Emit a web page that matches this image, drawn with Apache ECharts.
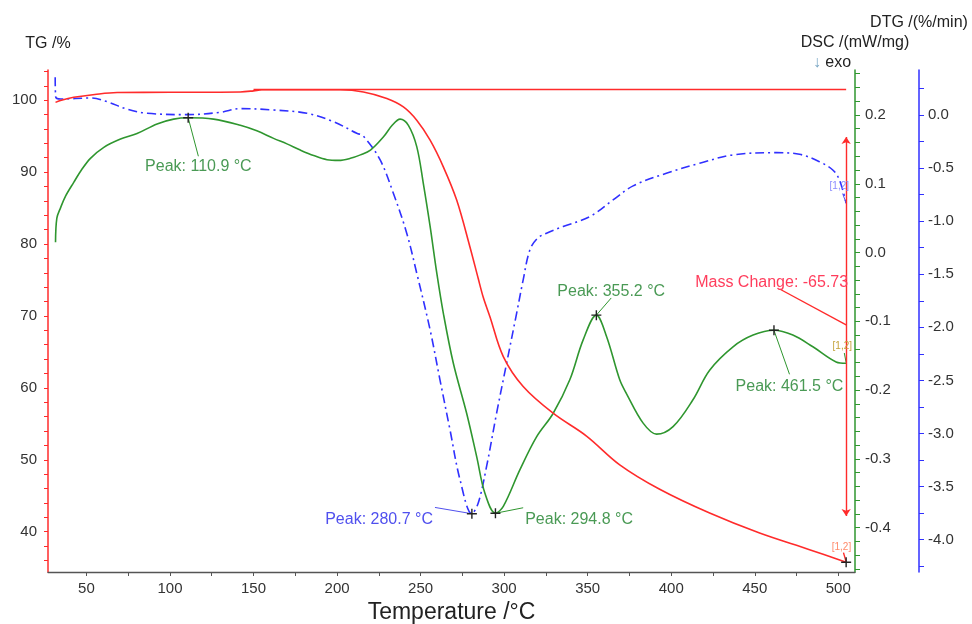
<!DOCTYPE html>
<html>
<head>
<meta charset="utf-8">
<script src="https://cdn.jsdelivr.net/npm/echarts@6/dist/echarts.min.js"></script>
<style>
  html, body { margin: 0; padding: 0; background: #ffffff; }
  #chart { width: 972px; height: 624px; }
</style>
</head>
<body>
<div id="chart"></div>
<script>
// ---- Thermogravimetric mass (TG, %) ----
const tgTemp = [31.5, 35, 42.4, 55, 68.4, 100, 142, 150, 155, 202, 215.8, 229.8, 239.7, 247.7, 255.7,
  263.6, 271.6, 279.5, 284.5, 287.5, 291.5, 299.5, 311.4, 329.3, 349.3, 369.2, 393.1, 423, 452.9, 482.8, 504.7];
const tgMass = [99.7, 100.0, 100.4, 100.8, 101.07, 101.1, 101.15, 101.3, 101.45, 101.45, 101.15, 100.24, 99.07, 97.22, 94.44,
  90.74, 86.11, 79.63, 75.2, 72.6, 69.9, 64.35, 60.19, 56.48, 53.3, 49.3, 45.9, 42.59, 39.81, 37.5, 35.76];

// ---- Heat flow (DSC, mW/mg), exo down ----
const dscTemp = [31.5, 32.3, 34.5, 37.5, 42.4, 47, 52.4, 60.4, 70.4, 80.3, 92.3, 102.2, 110.9, 126.1, 142.1,
  152, 162, 170, 178, 186, 194, 201, 208, 214, 220, 227.7, 233, 237.7, 242.7, 247.7, 251.6, 255.7, 259.7, 263.6, 269.6,
  277.6, 283.6, 288.5, 294.8, 299.5, 309.4, 319.4, 329.3, 339.3, 347.3, 355.2, 361.3, 369.2, 373.2, 383.2,
  391.2, 401.1, 413.0, 423, 437, 449, 461.5, 472.8, 484.8, 498.7, 504.7];
const dscHeat = [0.015, 0.05, 0.065, 0.082, 0.102, 0.12, 0.137, 0.153, 0.165, 0.173, 0.187, 0.194, 0.196, 0.194, 0.185,
  0.177, 0.166, 0.158, 0.149, 0.141, 0.135, 0.134, 0.137, 0.142, 0.149, 0.168, 0.185, 0.194, 0.185, 0.154, 0.101, 0.038, -0.030, -0.088, -0.161,
  -0.234, -0.297, -0.350, -0.379, -0.369, -0.316, -0.268, -0.234, -0.185, -0.127, -0.091, -0.122, -0.185, -0.205, -0.248,
  -0.264, -0.253, -0.214, -0.171, -0.137, -0.120, -0.113, -0.120, -0.137, -0.159, -0.161];

// ---- Mass-loss rate (DTG, %/min) ----
const dtgTemp = [31.3, 31.6, 34.5, 52.4, 62.4, 74.4, 86.3, 110.2, 130.1, 142.1, 162, 182, 197.8, 211.8, 215.8,
  225.8, 233.7, 241.7, 247.7, 255.7, 261.6, 267.6, 273.6, 280.7, 284.5, 289.5, 295.5, 301.5, 307.5, 311.4,
  315.4, 320, 325.4, 335.3, 351.3, 365.2, 377.2, 397.1, 417, 436.9, 462.9, 476.8, 488.7, 496.7, 500.7, 504.7];
const dtgRate = [0.355, 0.17, 0.15, 0.16, 0.125, 0.054, 0.016, 0.003, 0.025, 0.06, 0.047, 0.016, -0.063, -0.172, -0.2,
  -0.424, -0.737, -1.113, -1.49, -2.024, -2.494, -2.965, -3.435, -3.755, -3.655, -3.31, -2.808, -2.337, -1.866, -1.553,
  -1.271, -1.16, -1.113, -1.051, -0.957, -0.8, -0.668, -0.549, -0.455, -0.376, -0.355, -0.37, -0.44, -0.518, -0.612, -0.831];

// ---- Tick labels ----
const xTickLabels = [50, 100, 150, 200, 250, 300, 350, 400, 450, 500];
const tgTickLabels = [40, 50, 60, 70, 80, 90, 100];
const dscTickLabels = [-0.4, -0.3, -0.2, -0.1, 0.0, 0.1, 0.2];
const dtgTickLabels = [-4.0, -3.5, -3.0, -2.5, -2.0, -1.5, -1.0, -0.5, 0.0];

// ---- Evaluated events ----
const dscPeakTemps = [110.9, 294.8, 355.2, 461.5];
const dtgPeakTemps = [280.7];
const massBaseline = 101.49;
const massChange = -65.73;

// label anchors for the peak callouts (temperature, value, side, text offset)
const dscPeakLabelAt = [
  [117.0, 0.140, 'bottom', [0, 0]],
  [311.4, -0.371, 'right', [0, 12]],
  [364.1, -0.066, 'top', [0, 4]],
  [470.8, -0.177, 'bottom', [0, 2]]
];
const dtgPeakLabelAt = [[258.6, -3.696, 'left', [0, 12]]];

const FONT = '"Liberation Sans", Arial, sans-serif';
const RED = '#ff2b2b', GREEN = '#2f962f', BLUE = '#3030ff';
const GREEN_TXT = '#4a9a55', BLUE_TXT = '#5050ee', MASS_TXT = '#ff3d5c';
const PLUS = 'path://M4.3,0H5.7V4.3H10V5.7H5.7V10H4.3V5.7H0V4.3H4.3Z';

function zip(a, b) { return a.map((t, i) => [t, b[i]]); }
function valueAt(temps, vals, t) { return vals[temps.indexOf(t)]; }
function steps(from, to, step) {
  const out = [];
  for (let v = from; v <= to + step / 1000; v += step) out.push(Math.round(v * 1000) / 1000);
  return out;
}

function plusMark(coord) {
  return { coord, symbol: PLUS, symbolSize: 10, itemStyle: { color: '#222' }, label: { show: false } };
}
function textMark(coord, text, position, color, size, offset) {
  return {
    coord, symbol: 'circle', symbolSize: 0, itemStyle: { color: 'rgba(0,0,0,0)' },
    label: { show: true, position, distance: 2, formatter: text, color, fontSize: size,
             fontFamily: FONT, offset: offset || [0, 0] }
  };
}
function leader(a, b) { return [{ coord: a }, { coord: b }]; }

// DSC callouts
const dscMarks = [], dscLeaders = [];
dscPeakTemps.forEach((t, i) => {
  const v = valueAt(dscTemp, dscHeat, t);
  const [lt, lv, side, off] = dscPeakLabelAt[i];
  dscMarks.push(plusMark([t, v]));
  dscLeaders.push(leader([t, v], [lt, lv]));
  dscMarks.push(textMark([lt, lv], 'Peak: ' + t.toFixed(1) + ' °C', side, GREEN_TXT, 16, off));
});
dscMarks.push(textMark([502.4, -0.136], '[1,2]', 'inside', '#c3a23a', 10));
dscLeaders.push(leader([503.6, -0.146], [504.7, -0.160]));

// DTG callouts
const dtgMarks = [], dtgLeaders = [];
dtgPeakTemps.forEach((t, i) => {
  const v = valueAt(dtgTemp, dtgRate, t);
  const [lt, lv, side, off] = dtgPeakLabelAt[i];
  dtgMarks.push(plusMark([t, v]));
  dtgLeaders.push(leader([t, v], [lt, lv]));
  dtgMarks.push(textMark([lt, lv], 'Peak: ' + t.toFixed(1) + ' °C', side, BLUE_TXT, 16, off));
});
dtgMarks.push(textMark([500.6, -0.67], '[1,2]', 'inside', '#8c8cff', 10));
dtgLeaders.push(leader([502.6, -0.74], [504.7, -0.83]));

// TG: mass change step
const tgEnd = tgTemp[tgTemp.length - 1];
const tgMarks = [
  plusMark([tgEnd, tgMass[tgMass.length - 1]]),
  textMark([464.9, 73.75], 'Mass Change: ' + massChange.toFixed(2), 'top', MASS_TXT, 16, [-8, 4]),
  textMark([501.9, 37.9], '[1,2]', 'inside', '#ff8a6a', 10)
];
const tgLines = [
  leader([150, massBaseline], [tgEnd, massBaseline]),
  [{ coord: [tgEnd, 94.9], symbol: 'arrow' }, { coord: [tgEnd, 42.2], symbol: 'arrow' }],
  leader([464.9, 73.75], [tgEnd, 68.75]),
  leader([503.1, 37.1], [504.6, 35.9])
];

const labelStyle = { color: '#333', fontSize: 15, fontFamily: FONT };
const fmt1 = v => Number(v).toFixed(1);

const option = {
  animation: false,
  backgroundColor: '#ffffff',
  grid: { left: 48, right: 117, top: 70, bottom: 52, containLabel: false, outerBoundsMode: 'none' },
  xAxis: {
    type: 'value', min: 27, max: 510,
    name: 'Temperature /°C', nameLocation: 'middle', nameGap: 21,
    nameTextStyle: { fontSize: 23, color: '#222', fontFamily: FONT },
    axisLine: { onZero: false, lineStyle: { color: '#555', width: 1.3 } },
    axisTick: { show: true, length: 4, customValues: steps(50, 500, 25), lineStyle: { color: '#555' } },
    axisLabel: Object.assign({ margin: 9, customValues: xTickLabels }, labelStyle),
    splitLine: { show: false }
  },
  yAxis: [
    {
      type: 'value', position: 'left', min: 34.4, max: 104.2,
      name: 'TG /%', nameLocation: 'end', nameGap: 18,
      nameTextStyle: { fontSize: 16, color: '#222', fontFamily: FONT, align: 'center' },
      axisLine: { show: true, onZero: false, lineStyle: { color: RED, width: 1.5 } },
      axisTick: { show: true, length: 4, customValues: steps(36, 104, 2), lineStyle: { color: RED } },
      axisLabel: Object.assign({ margin: 11, customValues: tgTickLabels }, labelStyle),
      splitLine: { show: false }
    },
    {
      type: 'value', position: 'right', offset: 0, min: -0.4644, max: 0.2654,
      name: '{t|DSC /(mW/mg)}\n{a|↓} {e|exo}', nameLocation: 'end', nameGap: -3,
      nameTextStyle: {
        fontSize: 16, color: '#222', fontFamily: FONT, align: 'center', lineHeight: 20,
        rich: {
          t: { fontSize: 16, color: '#222', fontFamily: FONT, lineHeight: 20 },
          a: { fontSize: 16, color: '#7aa6c4', fontFamily: FONT, lineHeight: 20 },
          e: { fontSize: 16, color: '#222', fontFamily: FONT, lineHeight: 20, padding: [0, 46, 0, 0] }
        }
      },
      axisLine: { show: true, onZero: false, lineStyle: { color: GREEN, width: 1.5 } },
      axisTick: { show: true, length: 5, customValues: steps(-0.46, 0.26, 0.02), lineStyle: { color: GREEN } },
      axisLabel: Object.assign({ margin: 10, customValues: dscTickLabels, formatter: fmt1 }, labelStyle),
      splitLine: { show: false }
    },
    {
      type: 'value', position: 'right', offset: 64, min: -4.304, max: 0.4235,
      name: 'DTG /(%/min)', nameLocation: 'end', nameGap: 39,
      nameTextStyle: { fontSize: 16, color: '#222', fontFamily: FONT, align: 'center' },
      axisLine: { show: true, onZero: false, lineStyle: { color: BLUE, width: 1.5 } },
      axisTick: { show: true, length: 5, customValues: steps(-4.25, 0.25, 0.25), lineStyle: { color: BLUE } },
      axisLabel: Object.assign({ margin: 9, customValues: dtgTickLabels, formatter: fmt1 }, labelStyle),
      splitLine: { show: false }
    }
  ],
  series: [
    {
      name: 'DTG', type: 'line', yAxisIndex: 2, data: zip(dtgTemp, dtgRate),
      showSymbol: false, smooth: 0.35, z: 2,
      lineStyle: { color: BLUE, width: 1.6, type: [9, 4, 2, 4] },
      markLine: { silent: true, symbol: ['none', 'none'], label: { show: false },
                  lineStyle: { color: BLUE_TXT, width: 1, type: 'solid' }, data: dtgLeaders },
      markPoint: { silent: true, data: dtgMarks }
    },
    {
      name: 'DSC', type: 'line', yAxisIndex: 1, data: zip(dscTemp, dscHeat),
      showSymbol: false, smooth: 0.35, z: 3,
      lineStyle: { color: GREEN, width: 1.6 },
      markLine: { silent: true, symbol: ['none', 'none'], label: { show: false },
                  lineStyle: { color: GREEN, width: 1, type: 'solid' }, data: dscLeaders },
      markPoint: { silent: true, data: dscMarks }
    },
    {
      name: 'TG', type: 'line', yAxisIndex: 0, data: zip(tgTemp, tgMass),
      showSymbol: false, smooth: 0.35, z: 4,
      lineStyle: { color: RED, width: 1.6 },
      markLine: { silent: true, symbol: ['none', 'none'], symbolSize: 7, label: { show: false },
                  lineStyle: { color: RED, width: 1.4, type: 'solid' }, data: tgLines },
      markPoint: { silent: true, data: tgMarks }
    }
  ]
};

echarts.init(document.getElementById('chart'), null, { renderer: 'canvas' }).setOption(option);
</script>
</body>
</html>
